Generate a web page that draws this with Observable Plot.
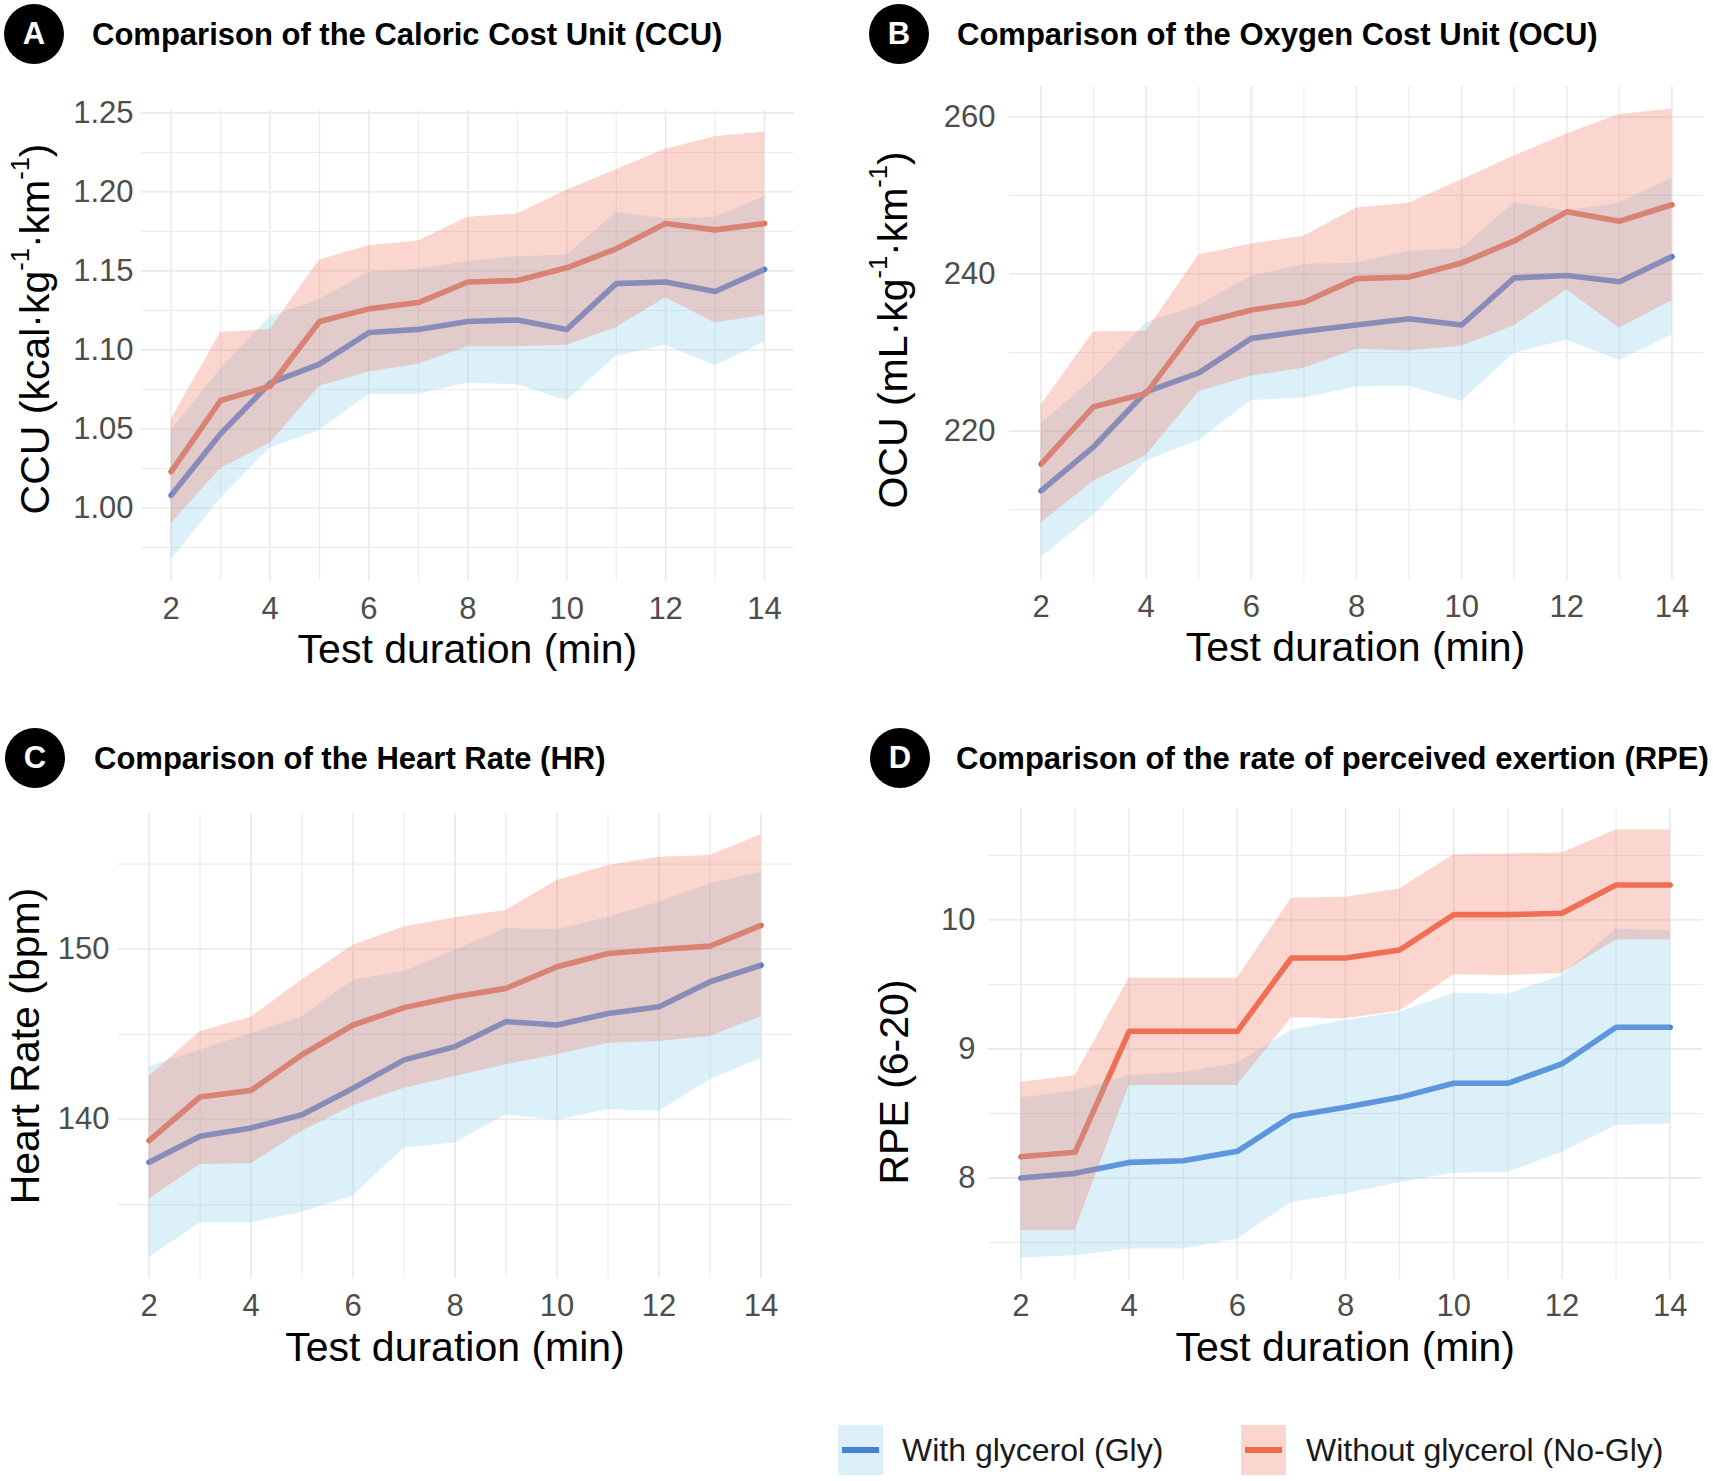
<!DOCTYPE html>
<html>
<head>
<meta charset="utf-8">
<script src="https://cdn.jsdelivr.net/npm/d3@7"></script>
<script src="https://cdn.jsdelivr.net/npm/@observablehq/plot@0.6"></script>
<style>
  html, body { margin: 0; padding: 0; background: #ffffff; }
  #root { position: relative; width: 1713px; height: 1481px; overflow: hidden; background: #ffffff;
          font-family: 'Liberation Sans', Arial, Helvetica, sans-serif; }
  .plotbox { position: absolute; }
  .badge { position: absolute; width: 60px; height: 60px; border-radius: 50%; background: #000; color: #fff;
           font-weight: bold; font-size: 31px; display: flex; align-items: center; justify-content: center;
           transform: translate(-50%, -50%); }
  .ptitle { position: absolute; font-weight: bold; font-size: 31px; color: #000; white-space: nowrap;
            transform: translateY(-50%); line-height: 1; }
  .xtitle { position: absolute; font-size: 41px; color: #000; white-space: nowrap; line-height: 1;
            transform: translate(-50%, -50%); }
  .ytitle { position: absolute; font-size: 41px; color: #000; white-space: nowrap; line-height: 1;
            transform: translate(-50%, -50%) rotate(-90deg); }
  .ytitle sup { font-size: 0.62em; line-height: 0; vertical-align: 0.75em; }
  .lkey { position: absolute; width: 45px; height: 50px; }
  .lkey .bar { position: absolute; left: 4px; right: 4px; top: 22px; height: 6px; }
  .ltext { position: absolute; font-size: 32px; color: #1a1a1a; white-space: nowrap; line-height: 1;
           transform: translateY(-50%); }
</style>
</head>
<body>
<div id="root"></div>
<script>
// ---------------- data ----------------
const minutes = [2, 3, 4, 5, 6, 7, 8, 9, 10, 11, 12, 13, 14];
const xMajorTicks = [2, 4, 6, 8, 10, 12, 14];
const xMinorTicks = [3, 5, 7, 9, 11, 13];

// A: Caloric Cost Unit (kcal/kg/km)
const ccuGlyMean = [1.008, 1.047, 1.079, 1.091, 1.111, 1.113, 1.118, 1.119, 1.113, 1.142, 1.143, 1.137, 1.151];
const ccuGlyLow  = [0.967, 1.006, 1.038, 1.049, 1.072, 1.072, 1.079, 1.078, 1.068, 1.096, 1.103, 1.090, 1.105];
const ccuGlyHigh = [1.049, 1.088, 1.121, 1.132, 1.149, 1.151, 1.156, 1.159, 1.160, 1.187, 1.183, 1.184, 1.197];
const ccuNoMean  = [1.023, 1.068, 1.077, 1.118, 1.126, 1.130, 1.143, 1.144, 1.152, 1.164, 1.180, 1.176, 1.180];
const ccuNoLow   = [0.990, 1.025, 1.041, 1.077, 1.086, 1.091, 1.102, 1.102, 1.103, 1.114, 1.133, 1.117, 1.122];
const ccuNoHigh  = [1.056, 1.111, 1.113, 1.157, 1.166, 1.169, 1.184, 1.186, 1.201, 1.214, 1.227, 1.235, 1.238];
const ccuMajorTicks = [1.00, 1.05, 1.10, 1.15, 1.20, 1.25];
const ccuMinorTicks = [0.975, 1.025, 1.075, 1.125, 1.175, 1.225];

// B: Oxygen Cost Unit (mL/kg/km)
const ocuGlyMean = [212.4, 218.0, 225.0, 227.4, 231.8, 232.7, 233.5, 234.3, 233.5, 239.5, 239.8, 239.0, 242.2];
const ocuGlyLow  = [203.9, 209.3, 216.2, 218.8, 223.9, 224.2, 225.6, 225.7, 223.8, 229.9, 231.6, 229.0, 232.2];
const ocuGlyHigh = [220.9, 226.7, 233.8, 236.0, 239.7, 241.2, 241.4, 242.9, 243.2, 249.1, 248.0, 249.0, 252.2];
const ocuNoMean  = [215.8, 223.1, 224.8, 233.7, 235.4, 236.4, 239.4, 239.6, 241.4, 244.2, 247.9, 246.7, 248.8];
const ocuNoLow   = [208.3, 213.6, 216.9, 225.0, 227.0, 228.0, 230.4, 230.2, 230.8, 233.4, 238.0, 233.1, 236.6];
const ocuNoHigh  = [223.3, 232.6, 232.7, 242.4, 243.8, 244.8, 248.4, 249.0, 252.0, 255.0, 257.8, 260.3, 261.0];
const ocuMajorTicks = [220, 240, 260];
const ocuMinorTicks = [210, 230, 250];

// C: Heart rate (bpm)
const hrGlyMean = [137.49, 139.01, 139.50, 140.28, 141.84, 143.50, 144.28, 145.75, 145.55, 146.23, 146.62, 148.09, 149.06];
const hrGlyLow  = [131.89, 133.94, 133.94, 134.53, 135.50, 138.33, 138.62, 140.28, 139.95, 140.58, 140.48, 142.33, 143.60];
const hrGlyHigh = [143.09, 144.08, 145.06, 146.03, 148.18, 148.67, 149.94, 151.22, 151.15, 151.88, 152.76, 153.85, 154.52];
const hrNoMean  = [138.76, 141.32, 141.71, 143.80, 145.55, 146.57, 147.21, 147.70, 148.97, 149.75, 149.98, 150.18, 151.40];
const hrNoLow   = [135.31, 137.36, 137.40, 139.31, 140.81, 141.84, 142.53, 143.21, 143.80, 144.48, 144.58, 144.87, 146.04];
const hrNoHigh  = [142.53, 145.16, 146.00, 148.19, 150.23, 151.31, 151.85, 152.28, 154.04, 154.92, 155.40, 155.50, 156.73];
const hrMajorTicks = [140, 150];
const hrMinorTicks = [135, 145, 155];

// D: Rate of perceived exertion (6-20)
const rpeGlyMean = [8.000, 8.036, 8.121, 8.134, 8.207, 8.478, 8.548, 8.625, 8.734, 8.734, 8.884, 9.168, 9.168];
const rpeGlyLow  = [7.380, 7.398, 7.450, 7.450, 7.527, 7.811, 7.876, 7.966, 8.036, 8.044, 8.199, 8.406, 8.419];
const rpeGlyHigh = [8.620, 8.674, 8.792, 8.818, 8.887, 9.145, 9.220, 9.284, 9.432, 9.424, 9.569, 9.930, 9.917];
const rpeNoMean  = [8.165, 8.199, 9.137, 9.137, 9.137, 9.705, 9.705, 9.767, 10.041, 10.041, 10.052, 10.271, 10.271];
const rpeNoLow   = [7.592, 7.592, 8.716, 8.716, 8.716, 9.242, 9.234, 9.294, 9.576, 9.570, 9.585, 9.844, 9.844];
const rpeNoHigh  = [8.742, 8.793, 9.548, 9.548, 9.548, 10.168, 10.176, 10.240, 10.506, 10.512, 10.519, 10.698, 10.698];
const rpeMajorTicks = [8, 9, 10];
const rpeMinorTicks = [7.5, 8.5, 9.5, 10.5];

const groupLabels = ["With glycerol (Gly)", "Without glycerol (No-Gly)"];

// ---------------- styling ----------------
const BLUE = "#4a7fd8";
const RED = "#ee6a4f";
const BLUE_FILL = "#87ceeb";
const RED_FILL = "#f2765f";
const FILL_OPACITY = 0.3;
const GRID = "#ebebeb";

function rowsOf(mean, low, high, group) {
  return minutes.map((m, i) => ({ minute: m, group, mean: mean[i], low: low[i], high: high[i] }));
}

const panels = [
  { tag: "A", title: "Comparison of the Caloric Cost Unit (CCU)",
    ytitle: "CCU (kcal·kg<sup>-1</sup>·km<sup>-1</sup>)",
    gly: [ccuGlyMean, ccuGlyLow, ccuGlyHigh], no: [ccuNoMean, ccuNoLow, ccuNoHigh],
    major: ccuMajorTicks, minor: ccuMinorTicks, fmt: d3.format(".2f"),
    left: 141, right: 793.7, top: 110.2, bottom: 581.2, gap: 8,
    badge: [34, 34], titleAt: [92, 34], ytitleAt: [35, 329] },
  { tag: "B", title: "Comparison of the Oxygen Cost Unit (OCU)",
    ytitle: "OCU (mL·kg<sup>-1</sup>·km<sup>-1</sup>)",
    gly: [ocuGlyMean, ocuGlyLow, ocuGlyHigh], no: [ocuNoMean, ocuNoLow, ocuNoHigh],
    major: ocuMajorTicks, minor: ocuMinorTicks, fmt: d3.format("d"),
    left: 1008.5, right: 1702.5, top: 85.5, bottom: 579, gap: 14,
    badge: [899, 34], titleAt: [957, 34], ytitleAt: [893, 330] },
  { tag: "C", title: "Comparison of the Heart Rate (HR)",
    ytitle: "Heart Rate (bpm)",
    gly: [hrGlyMean, hrGlyLow, hrGlyHigh], no: [hrNoMean, hrNoLow, hrNoHigh],
    major: hrMajorTicks, minor: hrMinorTicks, fmt: d3.format("d"),
    left: 118.4, right: 791.6, top: 813.3, bottom: 1278.5, gap: 9,
    badge: [35, 758], titleAt: [94, 758], ytitleAt: [25, 1046] },
  { tag: "D", title: "Comparison of the rate of perceived exertion (RPE)",
    ytitle: "RPE (6-20)",
    gly: [rpeGlyMean, rpeGlyLow, rpeGlyHigh], no: [rpeNoMean, rpeNoLow, rpeNoHigh],
    major: rpeMajorTicks, minor: rpeMinorTicks, fmt: d3.format("d"),
    left: 988.2, right: 1702.3, top: 807.8, bottom: 1278.7, gap: 13,
    badge: [900, 758], titleAt: [956, 758], ytitleAt: [894, 1082] }
];

const root = document.getElementById("root");
const ML = 110, MR = 10, MT = 10, MB = 60;

for (const p of panels) {
  const gly = rowsOf(p.gly[0], p.gly[1], p.gly[2], groupLabels[0]);
  const no = rowsOf(p.no[0], p.no[1], p.no[2], groupLabels[1]);
  const [lo, hi] = d3.extent([...p.gly[1], ...p.gly[2], ...p.no[1], ...p.no[2]]);
  const pad = (hi - lo) * 0.05;
  const w = p.right - p.left, h = p.bottom - p.top;

  const svg = Plot.plot({
    width: ML + w + MR,
    height: MT + h + MB,
    marginLeft: ML, marginRight: MR, marginTop: MT, marginBottom: MB,
    style: { fontFamily: "'Liberation Sans', Arial, sans-serif", fontSize: "31px", color: "#4d4d4d",
             background: "none", overflow: "visible" },
    x: { domain: [1.4, 14.6], label: null },
    y: { domain: [lo - pad, hi + pad], label: null },
    marks: [
      Plot.ruleY(p.minor, { stroke: GRID, strokeWidth: 1.1 }),
      Plot.ruleY(p.major, { stroke: GRID, strokeWidth: 1.8 }),
      Plot.ruleX(xMinorTicks, { stroke: GRID, strokeWidth: 1.1 }),
      Plot.ruleX(xMajorTicks, { stroke: GRID, strokeWidth: 1.8 }),
      Plot.line(gly, { x: "minute", y: "mean", stroke: BLUE, strokeWidth: 5.6 }),
      Plot.line(no, { x: "minute", y: "mean", stroke: RED, strokeWidth: 5.6 }),
      Plot.areaY(gly, { x: "minute", y1: "low", y2: "high", fill: BLUE_FILL, fillOpacity: FILL_OPACITY }),
      Plot.areaY(no, { x: "minute", y1: "low", y2: "high", fill: RED_FILL, fillOpacity: FILL_OPACITY }),
      Plot.axisY(p.major, { tickSize: 0, tickPadding: p.gap, tickFormat: p.fmt }),
      Plot.axisX(xMajorTicks, { tickSize: 0, tickPadding: 15 })
    ]
  });
  const box = document.createElement("div");
  box.className = "plotbox";
  box.style.left = (p.left - ML) + "px";
  box.style.top = (p.top - MT) + "px";
  box.appendChild(svg);
  root.appendChild(box);

  const badge = document.createElement("div");
  badge.className = "badge";
  badge.style.left = p.badge[0] + "px";
  badge.style.top = p.badge[1] + "px";
  badge.textContent = p.tag;
  root.appendChild(badge);

  const t = document.createElement("div");
  t.className = "ptitle";
  t.style.left = p.titleAt[0] + "px";
  t.style.top = p.titleAt[1] + "px";
  t.textContent = p.title;
  root.appendChild(t);

  const xt = document.createElement("div");
  xt.className = "xtitle";
  xt.style.left = ((p.left + p.right) / 2) + "px";
  xt.style.top = (p.bottom + 68) + "px";
  xt.textContent = "Test duration (min)";
  root.appendChild(xt);

  const yt = document.createElement("div");
  yt.className = "ytitle";
  yt.style.left = p.ytitleAt[0] + "px";
  yt.style.top = p.ytitleAt[1] + "px";
  yt.innerHTML = p.ytitle;
  root.appendChild(yt);
}

// legend
const legendItems = [
  { label: groupLabels[0], line: BLUE, fill: BLUE_FILL, keyX: 838, textX: 902 },
  { label: groupLabels[1], line: RED, fill: RED_FILL, keyX: 1241, textX: 1306 }
];
for (const it of legendItems) {
  const key = document.createElement("div");
  key.className = "lkey";
  key.style.left = it.keyX + "px";
  key.style.top = "1425px";
  const bg = document.createElement("div");
  bg.style.cssText = `position:absolute;inset:0;background:${it.fill};opacity:${FILL_OPACITY};`;
  const bar = document.createElement("div");
  bar.className = "bar";
  bar.style.background = it.line;
  key.appendChild(bg);
  key.appendChild(bar);
  root.appendChild(key);
  const txt = document.createElement("div");
  txt.className = "ltext";
  txt.style.left = it.textX + "px";
  txt.style.top = "1450px";
  txt.textContent = it.label;
  root.appendChild(txt);
}
</script>
</body>
</html>
